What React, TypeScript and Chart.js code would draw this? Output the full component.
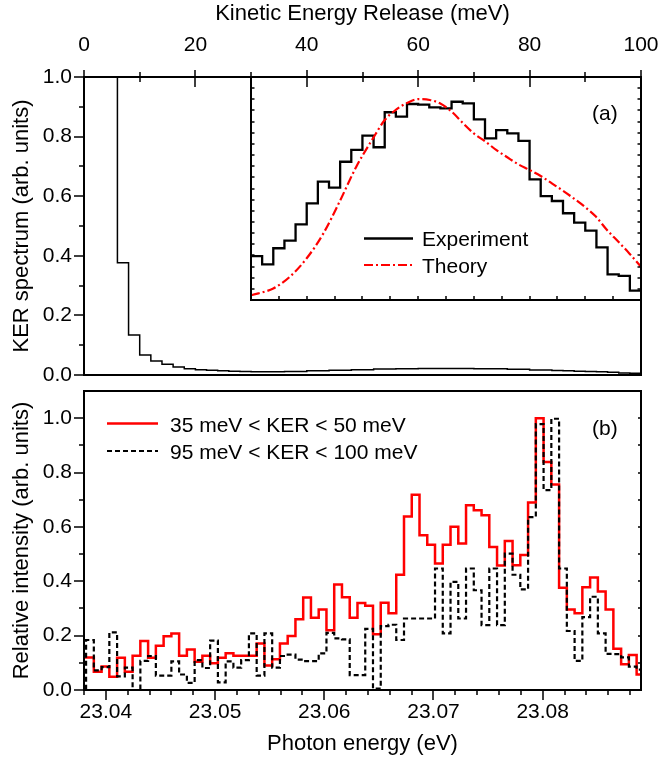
import React, { useEffect, useRef } from 'react';
import { Chart, registerables } from 'chart.js';
Chart.register(...registerables);

const FONT = "'Liberation Sans', Arial, Helvetica, sans-serif";
const FS = 21;

// ---------- Panel (a): KER spectrum ----------
const kerBinEdges = [0, 2, 4, 6, 8, 10, 12, 14, 16, 18, 20, 22, 24, 26, 28, 30, 32, 34, 36, 38, 40, 42, 44, 46, 48, 50,
  52, 54, 56, 58, 60, 62, 64, 66, 68, 70, 72, 74, 76, 78, 80, 82, 84, 86, 88, 90, 92, 94, 96, 98, 100];
const kerSpectrum = [1.5, 1.5, 1.5, 0.377, 0.134, 0.067, 0.047, 0.036, 0.027, 0.021, 0.018, 0.016, 0.014, 0.013, 0.012,
  0.011, 0.011, 0.011, 0.012, 0.012, 0.014, 0.014, 0.016, 0.016, 0.018, 0.018, 0.02, 0.02, 0.021, 0.021, 0.022, 0.022,
  0.022, 0.022, 0.022, 0.021, 0.021, 0.021, 0.019, 0.019, 0.017, 0.017, 0.015, 0.014, 0.013, 0.012, 0.011, 0.009, 0.007, 0.006];
const kerTicks = [0, 20, 40, 60, 80, 100];
const kerMinorTicks = [10, 30, 50, 70, 90];
const panelAYTicks = [0, 0.2, 0.4, 0.6, 0.8, 1.0];
const panelAYMinor = [0.1, 0.3, 0.5, 0.7, 0.9];

// Inset of panel (a)
const insetBinEdges = [30, 32, 34, 36, 38, 40, 42, 44, 46, 48, 50, 52, 54, 56, 58, 60, 62, 64, 66, 68, 70, 72, 74, 76, 78,
  80, 82, 84, 86, 88, 90, 92, 94, 96, 98, 100];
const insetExperiment = [0.197, 0.16, 0.232, 0.266, 0.339, 0.433, 0.531, 0.504, 0.62, 0.673, 0.737, 0.685, 0.842, 0.822,
  0.879, 0.876, 0.864, 0.859, 0.889, 0.882, 0.81, 0.725, 0.762, 0.747, 0.714, 0.541, 0.466, 0.444, 0.389, 0.347, 0.311,
  0.236, 0.115, 0.108, 0.042];
const theoryKer = [30, 34, 37, 40, 43, 45.9, 48.9, 51.9, 54, 56.1, 57.9, 60.1, 62.1, 63.9, 66, 68.1, 70, 72.1, 74, 76, 78,
  80, 82, 84, 86, 87.9, 90, 91.9, 93.9, 95.9, 97.9, 100];
const theoryValue = [0.021, 0.052, 0.105, 0.187, 0.299, 0.441, 0.598, 0.725, 0.807, 0.855, 0.882, 0.901, 0.897, 0.882,
  0.845, 0.792, 0.747, 0.71, 0.673, 0.64, 0.608, 0.583, 0.556, 0.523, 0.49, 0.456, 0.416, 0.374, 0.314, 0.262, 0.209, 0.149];
const insetXTicks = [35, 40, 45, 50, 55, 60, 65, 70, 75, 80, 85, 90, 95];
const insetYTicks = [0.05, 0.1, 0.15, 0.2, 0.25, 0.3, 0.35, 0.4, 0.45, 0.5, 0.55, 0.6, 0.65, 0.7, 0.75, 0.8, 0.85, 0.9, 0.95];

// ---------- Panel (b): photon energy scans ----------
const photonBinStart = 23.03748;
const photonBinWidth = 0.00071;
const kerWindowLow = [0.12, 0.12, 0.067, 0.086, 0.049, 0.119, 0.067, 0.126, 0.18, 0.119,
  0.163, 0.198, 0.208, 0.126, 0.149, 0.104, 0.126, 0.098, 0.119, 0.135,
  0.126, 0.126, 0.126, 0.171, 0.09, 0.113, 0.171, 0.199, 0.26, 0.34,
  0.266, 0.296, 0.22, 0.388, 0.341, 0.266, 0.32, 0.31, 0.205, 0.321,
  0.282, 0.424, 0.638, 0.718, 0.569, 0.534, 0.465, 0.534, 0.601, 0.539,
  0.68, 0.661, 0.643, 0.526, 0.458, 0.548, 0.459, 0.497, 0.69, 1.0,
  0.839, 0.756, 0.376, 0.296, 0.282, 0.378, 0.414, 0.362, 0.296, 0.152,
  0.095, 0.129, 0.057];
const kerWindowHigh = [0.0, 0.184, 0.072, 0.084, 0.212, 0.05, 0.082, 0.0, 0.107, 0.125,
  0.053, 0.053, 0.105, 0.057, 0.026, 0.11, 0.081, 0.182, 0.028, 0.105,
  0.082, 0.11, 0.208, 0.053, 0.208, 0.082, 0.125, 0.13, 0.112, 0.106,
  0.106, 0.135, 0.21, 0.19, 0.186, 0.055, 0.055, 0.225, 0.005, 0.235,
  0.24, 0.184, 0.263, 0.263, 0.263, 0.263, 0.447, 0.208, 0.398, 0.263,
  0.447, 0.367, 0.239, 0.447, 0.239, 0.502, 0.424, 0.37, 0.636, 0.978,
  0.735, 0.998, 0.447, 0.217, 0.107, 0.268, 0.343, 0.208, 0.133, 0.132,
  0.12, 0.086, 0.075];
const photonTicks = [23.04, 23.05, 23.06, 23.07, 23.08];
const panelBYTicks = [0, 0.2, 0.4, 0.6, 0.8, 1.0];
const panelBYMinor = [0.1, 0.3, 0.5, 0.7, 0.9];
const panelBRightTicks = [0.1, 0.2, 0.3, 0.4, 0.5, 0.6, 0.7, 0.8, 0.9, 1.0];

const photonEdges = Array.from({ length: kerWindowLow.length + 1 }, (_, i) => photonBinStart + i * photonBinWidth);
const photonMinor = Array.from({ length: 26 }, (_, i) => 23.038 + i * 0.002);

function stepPoints(edges: number[], values: number[]) {
  return edges.map((x, i) => ({ x, y: values[Math.min(i, values.length - 1)] }));
}

type Side = 'top' | 'bottom' | 'left' | 'right';
type TickSet = { side: Side; values: number[]; out: number; inn: number };

function framePlugin(id: string, ticks: TickSet[], extra?: (ctx: CanvasRenderingContext2D) => void) {
  return {
    id,
    afterDatasetsDraw(chart: any) {
      const { ctx, chartArea: a, scales } = chart;
      ctx.save();
      ctx.strokeStyle = '#000';
      ctx.lineWidth = 1.5;
      ctx.beginPath();
      for (const t of ticks) {
        const sc = t.side === 'top' || t.side === 'bottom' ? scales.x : scales.y;
        for (const v of t.values) {
          const p = Math.round(sc.getPixelForValue(v));
          if (t.side === 'top') { ctx.moveTo(p, a.top - t.out); ctx.lineTo(p, a.top + t.inn); }
          if (t.side === 'bottom') { ctx.moveTo(p, a.bottom + t.out); ctx.lineTo(p, a.bottom - t.inn); }
          if (t.side === 'left') { ctx.moveTo(a.left - t.out, p); ctx.lineTo(a.left + t.inn, p); }
          if (t.side === 'right') { ctx.moveTo(a.right + t.out, p); ctx.lineTo(a.right - t.inn, p); }
        }
      }
      ctx.stroke();
      ctx.lineWidth = 2;
      ctx.strokeRect(a.left, a.top, a.right - a.left, a.bottom - a.top);
      if (extra) extra(ctx);
      ctx.restore();
    },
  };
}

function legendLine(ctx: CanvasRenderingContext2D, x0: number, x1: number, y: number, color: string, width: number, dash: number[]) {
  ctx.save();
  ctx.strokeStyle = color;
  ctx.lineWidth = width;
  ctx.setLineDash(dash);
  ctx.beginPath();
  ctx.moveTo(x0, y);
  ctx.lineTo(x1, y);
  ctx.stroke();
  ctx.restore();
}

function legendText(ctx: CanvasRenderingContext2D, text: string, x: number, baseline: number) {
  ctx.save();
  ctx.fillStyle = '#000';
  ctx.font = `${FS}px ${FONT}`;
  ctx.textBaseline = 'alphabetic';
  ctx.textAlign = 'left';
  ctx.fillText(text, x, baseline);
  ctx.restore();
}

const tickFont = { family: FONT, size: FS };
const titleFont = { family: FONT, size: 22 };

function fixedScale(size: number, horizontal: boolean) {
  return (s: any) => {
    if (horizontal) s.height = size; else s.width = size;
    s.paddingLeft = 0; s.paddingRight = 0; s.paddingTop = 0; s.paddingBottom = 0;
  };
}

function topConfig(): any {
  return {
    type: 'line',
    data: {
      datasets: [{
        data: stepPoints(kerBinEdges, kerSpectrum), borderColor: '#000', borderWidth: 1.5,
        pointRadius: 0, stepped: 'before', fill: false,
      }],
    },
    options: {
      animation: false, responsive: false, maintainAspectRatio: false, events: [],
      layout: { padding: { left: 0, top: 0, right: 20, bottom: 384 } },
      plugins: { legend: { display: false }, tooltip: { enabled: false } },
      scales: {
        x: {
          type: 'linear', position: 'top', min: 0, max: 100,
          grid: { display: false, drawTicks: false }, border: { display: false },
          afterBuildTicks: (s: any) => { s.ticks = kerTicks.map((v) => ({ value: v })); },
          afterFit: fixedScale(77, true),
          ticks: { padding: 19, color: '#000', font: tickFont, autoSkip: false, maxRotation: 0, callback: (v: any) => String(v) },
          title: { display: true, text: 'Kinetic Energy Release (meV)', color: '#000', font: titleFont, padding: { top: 1, bottom: 0 } },
        },
        y: {
          type: 'linear', position: 'left', min: 0, max: 1,
          grid: { display: false, drawTicks: false }, border: { display: false },
          afterBuildTicks: (s: any) => { s.ticks = panelAYTicks.map((v) => ({ value: v })); },
          afterFit: fixedScale(84, false),
          ticks: { padding: 12, color: '#000', font: tickFont, autoSkip: false, callback: (v: any) => Number(v).toFixed(1) },
          title: { display: true, text: 'KER spectrum (arb. units)', color: '#000', font: titleFont, padding: { top: 9, bottom: 0 } },
        },
      },
    },
    plugins: [framePlugin('frameA', [
      { side: 'top', values: kerTicks, out: 7, inn: 10 },
      { side: 'top', values: kerMinorTicks, out: 5, inn: 5 },
      { side: 'left', values: panelAYTicks, out: 10, inn: 0 },
      { side: 'left', values: panelAYMinor, out: 5, inn: 0 },
    ])],
  };
}

function insetConfig(): any {
  return {
    type: 'line',
    data: {
      datasets: [
        {
          data: theoryKer.map((x, i) => ({ x, y: theoryValue[i] })), borderColor: '#ff0000', borderWidth: 2.2,
          borderDash: [9, 3, 2, 3], pointRadius: 0, fill: false, cubicInterpolationMode: 'monotone',
        },
        {
          data: stepPoints(insetBinEdges, insetExperiment), borderColor: '#000', borderWidth: 2.3,
          pointRadius: 0, stepped: 'before', fill: false,
        },
      ],
    },
    options: {
      animation: false, responsive: false, maintainAspectRatio: false, events: [],
      layout: { padding: { left: 251, top: 77, right: 20, bottom: 459 } },
      plugins: { legend: { display: false }, tooltip: { enabled: false } },
      scales: {
        x: { type: 'linear', min: 30, max: 100, display: false },
        y: { type: 'linear', min: 0, max: 1, display: false },
      },
    },
    plugins: [framePlugin('frameInset', [
      { side: 'bottom', values: insetXTicks, out: 0, inn: 4 },
      { side: 'left', values: insetYTicks, out: 0, inn: 3.5 },
      { side: 'right', values: insetYTicks, out: 0, inn: 3.5 },
    ], (ctx) => {
      legendLine(ctx, 364, 413, 238.5, '#000', 2.3, []);
      legendText(ctx, 'Experiment', 422, 246);
      legendLine(ctx, 364, 413, 265, '#ff0000', 2.2, [9, 3, 2, 3]);
      legendText(ctx, 'Theory', 422, 272.5);
      legendText(ctx, '(a)', 592, 120);
    })],
  };
}

function bottomConfig(): any {
  return {
    type: 'line',
    data: {
      datasets: [
        {
          data: stepPoints(photonEdges, kerWindowHigh), borderColor: '#000', borderWidth: 2.2,
          borderDash: [5, 3], pointRadius: 0, stepped: 'before', fill: false,
        },
        {
          data: stepPoints(photonEdges, kerWindowLow), borderColor: '#ff0000', borderWidth: 2.5,
          pointRadius: 0, stepped: 'before', fill: false,
        },
      ],
    },
    options: {
      animation: false, responsive: false, maintainAspectRatio: false, events: [],
      layout: { padding: { left: 0, top: 391, right: 20, bottom: 0 } },
      plugins: { legend: { display: false }, tooltip: { enabled: false } },
      scales: {
        x: {
          type: 'linear', position: 'bottom', min: 23.038, max: 23.089,
          grid: { display: false, drawTicks: false }, border: { display: false },
          afterBuildTicks: (s: any) => { s.ticks = photonTicks.map((v) => ({ value: v })); },
          afterFit: fixedScale(69, true),
          ticks: { padding: 10, color: '#000', font: tickFont, autoSkip: false, maxRotation: 0, callback: (v: any) => Number(v).toFixed(2) },
          title: { display: true, text: 'Photon energy (eV)', color: '#000', font: titleFont, padding: { top: 0, bottom: 2 } },
        },
        y: {
          type: 'linear', position: 'left', min: 0, max: 1.1,
          grid: { display: false, drawTicks: false }, border: { display: false },
          afterBuildTicks: (s: any) => { s.ticks = panelBYTicks.map((v) => ({ value: v })); },
          afterFit: fixedScale(84, false),
          ticks: { padding: 12, color: '#000', font: tickFont, autoSkip: false, callback: (v: any) => Number(v).toFixed(1) },
          title: { display: true, text: 'Relative intensity (arb. units)', color: '#000', font: titleFont, padding: { top: 9, bottom: 0 } },
        },
      },
    },
    plugins: [framePlugin('frameB', [
      { side: 'bottom', values: photonTicks, out: 10, inn: 0 },
      { side: 'bottom', values: photonMinor, out: 5, inn: 0 },
      { side: 'left', values: panelBYTicks, out: 10, inn: 0 },
      { side: 'left', values: panelBYMinor, out: 5, inn: 0 },
      { side: 'right', values: panelBRightTicks, out: 0, inn: 3 },
    ], (ctx) => {
      legendLine(ctx, 107, 158, 423.5, '#ff0000', 2.5, []);
      legendText(ctx, '35 meV < KER < 50 meV', 170, 431.5);
      legendLine(ctx, 107, 158, 451, '#000', 2.2, [5, 3]);
      legendText(ctx, '95 meV < KER < 100 meV', 170, 458.5);
      legendText(ctx, '(b)', 592, 435);
    })],
  };
}

export default function App() {
  const topRef = useRef<HTMLCanvasElement>(null);
  const insetRef = useRef<HTMLCanvasElement>(null);
  const botRef = useRef<HTMLCanvasElement>(null);

  useEffect(() => {
    const charts = [
      new Chart(topRef.current as HTMLCanvasElement, topConfig()),
      new Chart(insetRef.current as HTMLCanvasElement, insetConfig()),
      new Chart(botRef.current as HTMLCanvasElement, bottomConfig()),
    ];
    return () => charts.forEach((c) => c.destroy());
  }, []);

  const cs: React.CSSProperties = { position: 'absolute', left: 0, top: 0, width: 661, height: 759 };
  return (
    <div style={{ position: 'fixed', left: 0, top: 0, width: 661, height: 759, background: '#fff' }}>
      <canvas ref={topRef} width={661} height={759} style={cs} />
      <canvas ref={insetRef} width={661} height={759} style={cs} />
      <canvas ref={botRef} width={661} height={759} style={cs} />
    </div>
  );
}
